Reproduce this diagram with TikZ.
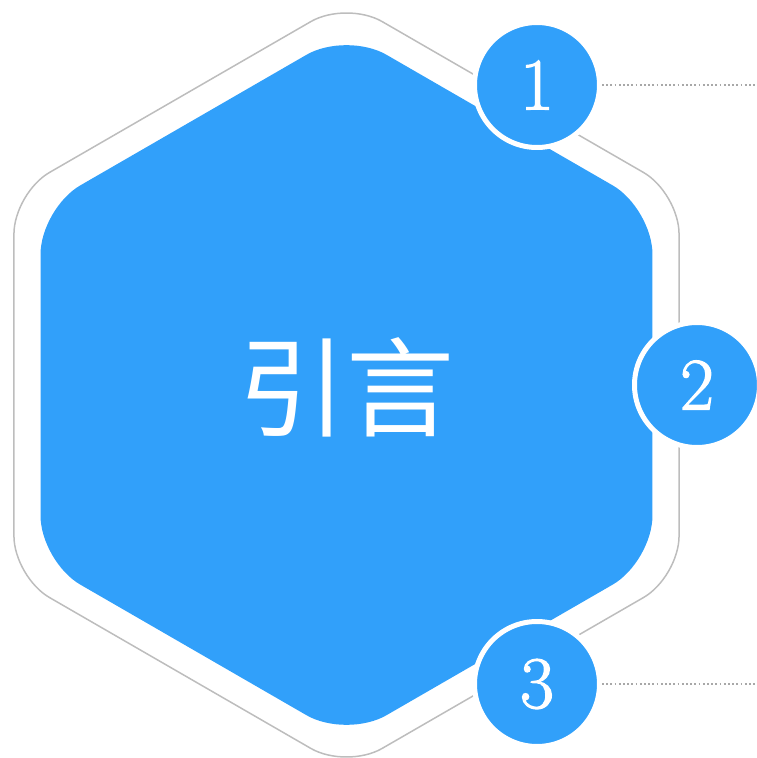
\documentclass[tikz,border=0pt]{standalone}
\usepackage{fontspec}
\newfontfamily\cjk{Noto Sans CJK SC}
\newfontfamily\numfont[FakeBold=1.6]{Latin Modern Roman}
\definecolor{hexblue}{HTML}{31A0FA}
\definecolor{hexgray}{HTML}{BDBDBD}
\definecolor{dotgray}{HTML}{A8A8A8}

\begin{document}
\begin{tikzpicture}[x=1pt,y=1pt,
  badge/.style={circle,fill=hexblue,draw=white,line width=5pt,minimum size=125pt,inner sep=0pt,
    text=white,font=\numfont\fontsize{74}{74}\selectfont},
  leader/.style={dotgray,line width=1.7pt,dash pattern=on 1.7pt off 2.5pt}]
  \useasboundingbox (-346.5,-373) rectangle (410.5,385);
  % outer frame and inner plate
  \draw[hexgray,line width=1.5pt,rounded corners=41pt]
    (90:384) -- (150:384) -- (210:384) -- (270:384) -- (330:384) -- (30:384) -- cycle;
  \fill[hexblue,rounded corners=46pt]
    (90:353.3) -- (150:353.3) -- (210:353.3) -- (270:353.3) -- (330:353.3) -- (30:353.3) -- cycle;
  \node[text=white,font=\cjk\fontsize{108}{108}\selectfont] (title) at (0,-2) {引言};
  % numbered badges
  \foreach \x/\y/\n in {190.5/300/1,350.5/0/2,190.5/-299/3}
    \node[badge] (n\n) at (\x,\y) {\n};
  \coordinate (e1) at (410.5,300);
  \coordinate (e3) at (410.5,-299);
  \draw[leader] (n1.east) -- (e1);
  \draw[leader] (n3.east) -- (e3);
\end{tikzpicture}
\end{document}
